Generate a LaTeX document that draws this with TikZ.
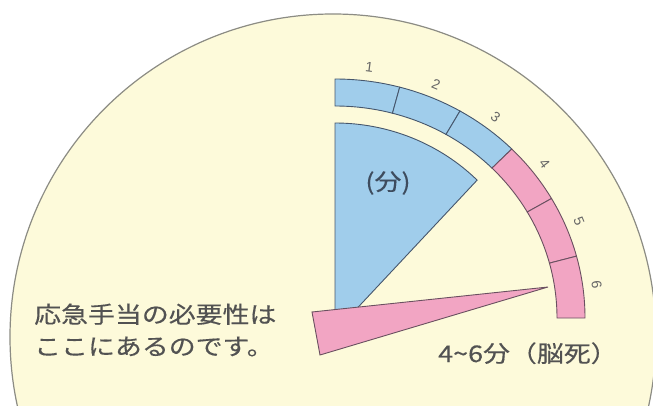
\documentclass[tikz,border=0pt]{standalone}
\usepackage{fontspec}
\newfontfamily\jpfont[FakeBold=0.3]{Noto Sans CJK JP}
\newfontfamily\numfont{Liberation Sans}
\definecolor{cream}{HTML}{FDFADA}
\definecolor{skyb}{HTML}{A0CDEB}
\definecolor{pinkc}{HTML}{F2A5C3}
\definecolor{edgeb}{HTML}{46566C}
\definecolor{edgep}{HTML}{6A5060}
\definecolor{domeedge}{HTML}{8C8C84}
\definecolor{txt}{HTML}{525252}
\definecolor{unittxt}{HTML}{3E4C5E}
\begin{document}
\begin{tikzpicture}[x=1pt,y=1pt,
  jptext/.style={font=\jpfont\fontsize{23}{23}\selectfont, text=txt, inner sep=0pt, xscale=1.17},
  numlab/.style={font=\numfont\fontsize{14}{14}\selectfont, text=black!60, inner sep=0pt}]
\useasboundingbox (0,0) rectangle (653,405);
\fill[white] (0,0) rectangle (653,405);
\begin{scope}
  \clip (0,0) rectangle (653,405);
  \filldraw[fill=cream, draw=domeedge, line width=1.2pt] (333,68) circle[radius=323];
\end{scope}
\begin{scope}[shift={(335,87)}]
  % blue sector
  \filldraw[fill=skyb, draw=edgeb, line width=0.9pt] (0,0) -- (0,195)
    arc[start angle=90,end angle=45,x radius=201,y radius=195] -- (13,0) -- cycle;
  % ring segments
  \foreach \k/\c/\d/\t in {0/skyb/edgeb/1,1/skyb/edgeb/2,2/skyb/edgeb/3,3/pinkc/edgep/4,4/pinkc/edgep/5,5/pinkc/edgep/6}{
    \pgfmathsetmacro\a{90-15*\k}
    \pgfmathsetmacro\b{75-15*\k}
    \filldraw[fill=\c, draw=\d, line width=0.9pt] (\a:250 and 239)
      arc[start angle=\a,end angle=\b,x radius=250,y radius=239]
      -- (\b:222 and 212)
      arc[start angle=\b,end angle=\a,x radius=222,y radius=212] -- cycle;
    \pgfmathsetmacro\m{82.5-15*\k}
    \pgfmathsetmacro\r{\m-90}
    \node[numlab, rotate=\r] (lab\t) at (\m:264 and 253) {\t};
  }
  % pink needle
  \filldraw[fill=pinkc, draw=edgep, line width=0.9pt] (-23,6) -- (-15,-37) -- (213,31) -- cycle;
\end{scope}
\node[jptext, text=unittxt] (unit) at (388,222) {(分)};
\node[jptext, anchor=base west] (l1) at (34,82) {応急手当の必要性は};
\node[jptext, anchor=base west] (l2) at (34,50) {ここにあるのです。};
\node[jptext, anchor=base west] (brain) at (438,43) {4\textasciitilde 6分（脳死）};
\end{tikzpicture}
\end{document}
